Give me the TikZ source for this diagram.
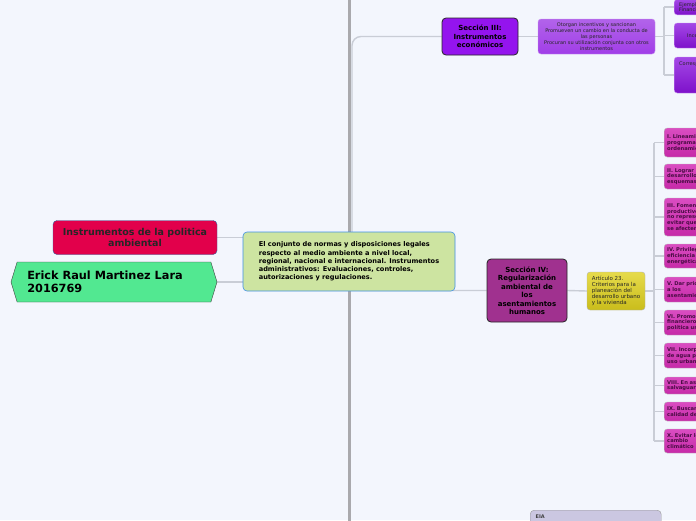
\documentclass[tikz,border=0pt]{standalone}
\usepackage{fontspec}
\setmainfont{DejaVu Sans}
\usetikzlibrary{shapes.symbols,backgrounds}

\definecolor{fondo}{HTML}{F3F6FD}
\definecolor{ejegris}{HTML}{A9A9AD}
\definecolor{lineagris}{HTML}{C9CDD6}
\definecolor{rojo}{HTML}{E2004B}
\definecolor{verde}{HTML}{52E891}
\definecolor{olivo}{HTML}{CDE4A1}
\definecolor{azulborde}{HTML}{3F8FE6}
\definecolor{morado}{HTML}{9414EE}
\definecolor{lila}{HTML}{A448E6}
\definecolor{magenta}{HTML}{A0318F}
\definecolor{amarillo}{HTML}{E0D21E}
\definecolor{rosa}{HTML}{C62AA8}
\definecolor{rosaclaro}{HTML}{DA4DC2}
\definecolor{rosatexto}{HTML}{4A0C44}
\definecolor{lavanda}{HTML}{CBC7E1}

\begin{document}
\begin{tikzpicture}[x=1pt, y=-1pt, line join=round,
  caja/.style={draw, rounded corners=4pt, inner sep=2pt, align=center},
  rama/.style={draw=lineagris, line width=1.4pt},
  seccion/.style={caja, draw=black!85, line width=0.8pt,
    font=\fontsize{7}{8.5}\selectfont\bfseries},
  rosabox/.style={caja, draw=gray!55, rounded corners=3pt,
    top color=rosaclaro, bottom color=rosa, anchor=west,
    minimum width=100pt, text width=94pt, align=left, inner xsep=3pt,
    text=rosatexto, font=\fontsize{5.2}{5.8}\selectfont\bfseries},
  lilabox/.style={caja, draw=lila!60!white, rounded corners=3pt,
    top color=lila, bottom color=morado!85!black, anchor=west,
    minimum width=70pt, text width=60pt, align=left,
    text=black!85, font=\fontsize{5}{5.6}\selectfont}]

%-----------------------
% marco del dibujo
%-----------------------
\useasboundingbox (0,0) rectangle (696,520);
\clip (0,0) rectangle (696,520);

\coordinate (ejeA) at (349,-5);
\coordinate (ejeB) at (349,525);
\coordinate (tronco) at (352,0);
\coordinate (riel3) at (664,0);
\coordinate (riel4) at (654,0);

%-----------------------
% nodos de la izquierda y tema central
%-----------------------
\node[caja, fill=rojo, draw=azulborde!70!black, minimum width=164pt, minimum height=34pt,
  font=\fontsize{9.5}{10.5}\selectfont\bfseries, text=black!85]
  (politica) at (135,237.5) {Instrumentos de la politica\\ambiental};
\node[signal, signal to=west and east, signal pointer angle=146, draw=black!75, fill=verde,
  minimum width=206pt, minimum height=40pt, inner sep=1pt, align=left,
  font=\fontsize{11.3}{12.5}\selectfont\bfseries]
  (autor) at (114,282) {Erick Raul Martinez Lara\hspace*{18pt}\\2016769};
\node[caja, fill=olivo, draw=azulborde, line width=0.6pt, minimum width=212pt, minimum height=59pt,
  align=left, font=\fontsize{6.6}{8.3}\selectfont\bfseries]
  (normas) at (349,261.5) {El conjunto de normas y disposiciones legales\\
  respecto al medio ambiente a nivel local,\\
  regional, nacional e internacional. Instrumentos\\
  administrativos: Evaluaciones, controles,\\
  autorizaciones y regulaciones.};

%-----------------------
% seccion III
%-----------------------
\node[seccion, fill=morado, minimum width=76pt, minimum height=37pt]
  (sec3) at (480,36.5) {Sección III:\\Instrumentos\\económicos};
\node[caja, draw=lila!60!white, rounded corners=3pt, top color=lila!85!white, bottom color=lila!80!morado,
  minimum width=117pt, minimum height=35pt, inner sep=1pt, text=black!85,
  font=\fontsize{5}{6}\selectfont]
  (efectos) at (596.5,36.5) {Otorgan incentivos y sancionan\\Promueven un cambio en la conducta de\\las personas\\Procuran su utilización conjunta con otros\\instrumentos};
\node[lilabox, anchor=south west, inner sep=3pt] (ejemplos) at (674,15) {Ejemplos\\Financieros};
\node[lilabox, minimum height=25pt, inner xsep=13pt] (incent) at (674,35.5) {Incentivos};
\node[lilabox, text height=4pt, text depth=24pt, inner sep=4pt, minimum height=36pt] (corresp) at (674,75) {Corresponden};

%-----------------------
% seccion IV
%-----------------------
\node[seccion, fill=magenta, minimum width=80pt, minimum height=63pt]
  (sec4) at (527,290.5) {Sección IV:\\Regularización\\ambiental de\\los\\asentamientos\\humanos};
\node[caja, draw=gray!60, rounded corners=3pt, top color=amarillo!80!white, bottom color=amarillo!90!black,
  minimum width=58pt, minimum height=38pt, align=left, text=black!85,
  font=\fontsize{5.5}{5.9}\selectfont]
  (art23) at (616,291) {Artículo 23.\\Criterios para la\\planeación del\\desarrollo urbano\\y la vivienda};

\node[rosabox, minimum height=29pt] (r1) at (664,142.5) {I. Lineamientos\\programas\\ordenamiento};
\node[rosabox, minimum height=25pt] (r2) at (664,176.5) {II. Lograr\\desarrollo\\esquemas};
\node[rosabox, minimum height=38pt] (r3) at (664,217) {III. Fomentar\\productivos\\no representen\\evitar que\\se afecten};
\node[rosabox, minimum height=24pt] (r4) at (664,256) {IV. Privilegiar\\eficiencia\\energética};
\node[rosabox, minimum height=25pt] (r5) at (664,289.5) {V. Dar prioridad\\a los\\asentamientos};
\node[rosabox, minimum height=25pt] (r6) at (664,322.5) {VI. Promover\\financieros\\política urbana};
\node[rosabox, minimum height=25pt] (r7) at (664,355.5) {VII. Incorporar\\de agua para\\uso urbano};
\node[rosabox, minimum height=17pt] (r8) at (664,385.5) {VIII. En asentamientos\\salvaguarda};
\node[rosabox, minimum height=19pt] (r9) at (664,411.5) {IX. Buscar\\calidad de};
\node[rosabox, minimum height=24pt] (r10) at (664,441) {X. Evitar los\\cambio\\climático};

\node[caja, draw=gray!80, fill=lavanda, rounded corners=4pt, anchor=north west,
  minimum width=131pt, minimum height=30pt, text width=120pt, text height=4pt, text depth=20pt,
  inner sep=4pt, align=left, font=\fontsize{5}{6}\selectfont\bfseries, text=black!75]
  (eia) at (530,510) {EIA};

%-----------------------
% fondo, eje y conectores (detras de las cajas)
%-----------------------
\begin{pgfonlayer}{background}
\fill[fondo] (0,0) rectangle (696,520);
\draw[draw=ejegris, line width=3pt] (ejeA) -- (ejeB);

\draw[rama] (politica.east) -- (politica.east -| normas.west);
\draw[rama] (autor.east) -- (autor.east -| normas.west);
\draw[rama, rounded corners=9pt] (sec3.west) -- (sec3.west -| tronco) -- (tronco |- sec4.west) -- (sec4.west);

\draw[rama] (sec3.east) -- (efectos.west);
\draw[rama] (efectos.east) -- (efectos.east -| riel3);
\draw[rama] (riel3 |- ejemplos.west) -- (riel3 |- corresp.west);
\foreach \b in {ejemplos,incent,corresp}
  \draw[rama] (riel3 |- \b.west) -- (\b.west);

\draw[rama] (sec4.east) -- (art23.west);
\draw[rama] (art23.east) -- (art23.east -| riel4);
\draw[rama] (riel4 |- r1.west) -- (riel4 |- r10.west);
\foreach \n in {1,...,10}
  \draw[rama] (riel4 |- r\n.west) -- (r\n.west);
\end{pgfonlayer}

\end{tikzpicture}
\end{document}
